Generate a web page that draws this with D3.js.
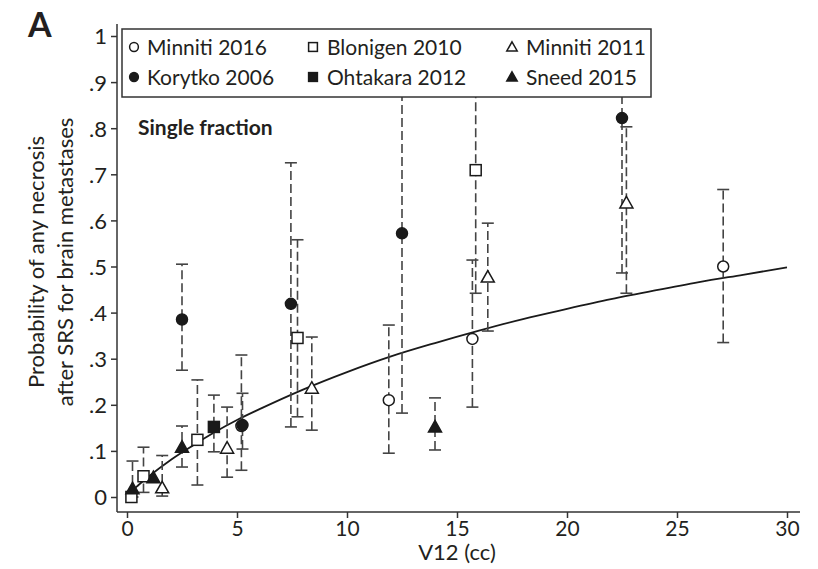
<!DOCTYPE html>
<html><head><meta charset="utf-8">
<script src="https://cdn.jsdelivr.net/npm/d3@7"></script>
<style>body{margin:0;background:#fff}svg{display:block}text{font-family:Lato,"Open Sans",sans-serif;fill:#231f20}</style>
</head><body><svg id="c" width="818" height="569"></svg>
<script>
// ---- data ----
const xTicks = [0, 5, 10, 15, 20, 25, 30];
const yTicks = [0, .1, .2, .3, .4, .5, .6, .7, .8, .9, 1];
const yTickLabels = ["0", ".1", ".2", ".3", ".4", ".5", ".6", ".7", ".8", ".9", "1"];

// each study: V12, probability, lower CI, upper CI (null = no bar)
const minniti2016 = {name: "Minniti 2016", shape: "circle", filled: false,
  x: [27.1, 15.7, 11.9, 5.2], y: [0.500, 0.343, 0.210, 0.154],
  lo: [0.335, 0.195, 0.095, 0.058], hi: [0.667, 0.514, 0.373, 0.308]};
const korytko2006 = {name: "Korytko 2006", shape: "circle", filled: true,
  x: [2.5, 7.45, 12.5, 22.5, 5.25], y: [0.385, 0.419, 0.572, 0.822, 0.156],
  lo: [0.275, 0.152, 0.182, 0.486, 0.104], hi: [0.505, 0.725, 0.92, 0.92, 0.225]};
const blonigen2010 = {name: "Blonigen 2010", shape: "square", filled: false,
  x: [0.2, 0.75, 3.2, 7.75, 15.85], y: [0.000, 0.045, 0.124, 0.345, 0.709],
  lo: [null, 0.010, 0.026, 0.174, 0.442], hi: [null, 0.108, 0.254, 0.558, 0.92]};
const ohtakara2012 = {name: "Ohtakara 2012", shape: "square", filled: true,
  x: [3.95], y: [0.152], lo: [0.098], hi: [0.221]};
const minniti2011 = {name: "Minniti 2011", shape: "triangle", filled: false,
  x: [1.6, 4.55, 8.4, 16.4, 22.7], y: [0.020, 0.106, 0.236, 0.477, 0.638],
  lo: [0.002, 0.043, 0.145, 0.360, 0.442], hi: [0.090, 0.195, 0.347, 0.594, 0.803]};
const sneed2015 = {name: "Sneed 2015", shape: "triangle", filled: true,
  x: [0.25, 1.2, 2.5, 14.0], y: [0.018, 0.042, 0.108, 0.152],
  lo: [0.0, null, 0.065, 0.102], hi: [0.078, null, 0.154, 0.215]};

// fitted curve, points
const fitX = [0, 0.25, 0.5, 1, 2, 3, 4, 5, 6, 8, 10, 12, 14, 16, 18, 20, 22, 24, 26, 28, 30];
const fitY = [0, 0.014, 0.025, 0.045, 0.081, 0.112, 0.141, 0.167, 0.19, 0.233, 0.271, 0.305, 0.334, 0.361, 0.386, 0.408, 0.429, 0.448, 0.466, 0.482, 0.498];

const studies = [minniti2016, korytko2006, blonigen2010, ohtakara2012, minniti2011, sneed2015];
const legendOrder = [[minniti2016, blonigen2010, minniti2011], [korytko2006, ohtakara2012, sneed2015]];

// ---- drawing ----
const svg = d3.select("#c");
const x = d3.scaleLinear().domain([0, 30]).range([127, 787]);
const y = d3.scaleLinear().domain([0, 1]).range([497, 36]);
const ink = "#231f20";

// axes
const gx = svg.append("g").attr("transform", "translate(0,512)")
  .call(d3.axisBottom(x).tickValues(xTicks).tickSize(6).tickPadding(3));
gx.select(".domain").attr("d", "M117,0H800");
const gy = svg.append("g").attr("transform", "translate(117,0)")
  .call(d3.axisLeft(y).tickValues(yTicks).tickFormat((d, i) => yTickLabels[i]).tickSize(6).tickPadding(4));
gy.select(".domain").attr("d", "M0,24V512");
svg.selectAll(".domain, .tick line").attr("stroke", "#333").attr("stroke-width", 1.5);
gx.selectAll("text").attr("font-size", 21).attr("fill", ink).attr("font-family", "Lato");
gy.selectAll("text").attr("font-size", 22).attr("fill", ink).attr("font-family", "Lato").attr("dy", "0.36em");

// axis titles
svg.append("text").attr("x", 457).attr("y", 560).attr("text-anchor", "middle").attr("font-size", 22).text("V12 (cc)");
svg.append("text").attr("transform", "translate(44,262) rotate(-90)").attr("text-anchor", "middle").attr("font-size", 22).text("Probability of any necrosis");
svg.append("text").attr("transform", "translate(73,262) rotate(-90)").attr("text-anchor", "middle").attr("font-size", 22).text("after SRS for brain metastases");
svg.append("text").attr("x", 28).attr("y", 37).attr("font-size", 34).attr("font-weight", "bold").attr("font-family", "Liberation Sans, Arial, sans-serif").text("A");
svg.append("text").attr("x", 138).attr("y", 135).attr("font-size", 21).attr("font-weight", "bold").text("Single fraction");

// fitted curve
const fit = fitX.map((v, i) => [v, fitY[i]]);
svg.append("path").datum(fit).attr("fill", "none").attr("stroke", "#1a1a1a").attr("stroke-width", 1.8)
  .attr("d", d3.line().x(d => x(d[0])).y(d => y(d[1])).curve(d3.curveMonotoneX));

// error bars
const gb = svg.append("g");
studies.forEach(s => s.x.forEach((v, i) => {
  if (s.lo[i] == null) return;
  const px = x(v);
  gb.append("line").attr("x1", px).attr("x2", px).attr("y1", y(s.lo[i])).attr("y2", y(s.hi[i]))
    .attr("stroke", "#444").attr("stroke-width", 1.6).attr("stroke-dasharray", "9,4");
  [s.lo[i], s.hi[i]].forEach(e => gb.append("line").attr("x1", px - 6).attr("x2", px + 6)
    .attr("y1", y(e)).attr("y2", y(e)).attr("stroke", "#444").attr("stroke-width", 1.6));
}));

function marker(g, shape, filled, cx, cy, k) {
  k = k || 1;
  let el;
  if (shape === "circle") el = g.append("circle").attr("cx", cx).attr("cy", cy).attr("r", 5.5 * k);
  else if (shape === "square") el = g.append("rect").attr("x", cx - 5.5 * k).attr("y", cy - 5.5 * k).attr("width", 11 * k).attr("height", 11 * k);
  else el = g.append("path").attr("d", `M${cx},${cy - 6.5 * k}L${cx + 6.5 * k},${cy + 5 * k}L${cx - 6.5 * k},${cy + 5 * k}Z`);
  el.attr("fill", filled ? "#1a1a1a" : "#fff").attr("stroke", "#1a1a1a").attr("stroke-width", 1.5);
}
const gm = svg.append("g");
studies.forEach(s => s.x.forEach((v, i) => marker(gm, s.shape, s.filled, x(v), y(s.y[i]))));

// legend
const lg = svg.append("g");
lg.append("rect").attr("x", 122).attr("y", 29).attr("width", 529).attr("height", 68)
  .attr("fill", "#fff").attr("stroke", "#333").attr("stroke-width", 1.5);
const colSym = [134, 313, 512], colTxt = [147, 327, 526], rowY = [47, 77];
legendOrder.forEach((row, r) => row.forEach((s, c) => {
  marker(lg, s.shape, s.filled, colSym[c], rowY[r], 0.8);
  lg.append("text").attr("x", colTxt[c]).attr("y", rowY[r]).attr("dy", "0.36em").attr("font-size", 21).text(s.name);
}));
</script></body></html>
